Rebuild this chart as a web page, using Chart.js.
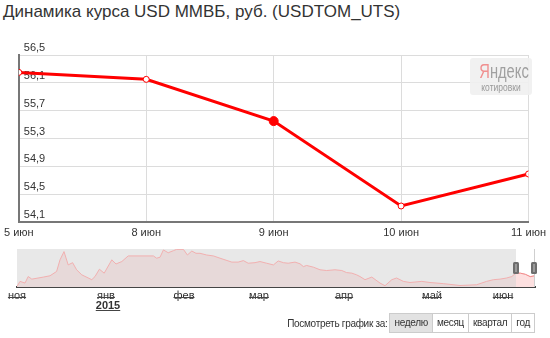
<!DOCTYPE html>
<html lang="ru">
  <head>
    <meta charset="UTF-8" />
    <title>Динамика курса USD ММВБ</title>
    <script src="https://cdn.jsdelivr.net/npm/chart.js"></script>
    <style>
      * {
        margin: 0;
        padding: 0;
        box-sizing: border-box;
        font-family: "Liberation Sans", Arial, sans-serif;
      }

      body {
        background: white;
        width: 550px;
        height: 338px;
        position: relative;
        overflow: hidden;
      }

      .title {
        position: absolute;
        left: 3px;
        top: 2px;
        font-size: 17px;
        color: #333;
        white-space: nowrap;
      }

      #mainBox {
        position: absolute;
        left: 0;
        top: 0;
        width: 550px;
        height: 242px;
      }

      #navBox {
        position: absolute;
        left: 0;
        top: 240px;
        width: 550px;
        height: 75px;
      }

      .logo {
        position: absolute;
        left: 470px;
        top: 58px;
        width: 62px;
        height: 37px;
        background: rgba(240, 240, 240, 0.9);
        border-radius: 3px;
        text-align: center;
      }

      .logo .brand {
        font-size: 21px;
        color: #a0a0a0;
        line-height: 22px;
        padding-top: 2px;
        transform: scaleX(0.7);
        white-space: nowrap;
      }

      .logo .brand span {
        color: #f09090;
      }

      .logo .sub {
        font-size: 10px;
        color: #999;
        line-height: 11px;
        transform: scaleX(0.85);
      }

      .periods {
        position: absolute;
        top: 313px;
        right: 15px;
        display: flex;
        align-items: center;
        font-size: 10px;
        letter-spacing: -0.3px;
        color: #333;
      }

      .periods .label {
        margin-right: 2px;
      }

      .periods .btns {
        display: flex;
        border: 1px solid #ccc;
      }

      .periods .btns div {
        height: 18px;
        line-height: 17px;
        padding: 0 4px;
        border-left: 1px solid #ccc;
      }

      .periods .btns div:first-child {
        border-left: none;
        background: #e2e2e2;
      }
    </style>
  </head>
  <body>
    <div class="title">Динамика курса USD ММВБ, руб. (USDTOM_UTS)</div>

    <div id="mainBox"><canvas id="rateChart"></canvas></div>
    <div class="logo">
      <div class="brand"><span>Я</span>ндекс</div>
      <div class="sub">котировки</div>
    </div>

    <div id="navBox"><canvas id="navChart"></canvas></div>

    <div class="periods">
      <div class="label">Посмотреть график за:</div>
      <div class="btns">
        <div>неделю</div>
        <div>месяц</div>
        <div>квартал</div>
        <div>год</div>
      </div>
    </div>

    <script>
      // week view
      const days = ["5 июн", "8 июн", "9 июн", "10 июн", "11 июн"];
      const rates = [56.25, 56.15, 55.55, 54.33, 54.79];
      const activeIndex = 2;

      const yTicks = [54.1, 54.5, 54.9, 55.3, 55.7, 56.1, 56.5];

      // navigator (trading day index -> rate)
      const navDays = [
        0, 0.75, 2, 2.8, 3.7, 6.6, 8.25, 9.9, 10.75, 11.75, 12.8, 13.9, 14.9,
        16.2, 18.7, 19.5, 20.6, 21.8, 23.7, 24.75, 26.2, 27.8, 34.1, 34.9,
        35.75, 36.6, 37.8, 39.1, 39.9, 41.6, 42.6, 43.7, 44.75, 45.75, 47.4,
        49.1, 50.75, 52, 53.7, 55.3, 56.6, 57.8, 59.5, 60.75, 62.4, 64.1,
        65.3, 66.6, 67.8, 69.5, 70.75, 71.6, 72.4, 74.1, 75.75, 77.4, 79.5,
        81.2, 82.4, 83.7, 84.9, 85.75, 87, 88.7, 90.75, 92, 93.7, 94.9, 96.6,
        98.25, 101.2, 103.25, 106.6, 110.75, 114.9, 117.4, 119.1, 120.75,
        122.4, 123.7, 124.75, 125.9, 127.1, 128.3, 129.5,
      ];
      const navRates = [
        49.1, 51.8, 50.9, 54.4, 53.0, 54.1, 54.8, 57.1, 63.3, 67.7, 60.6, 61.8,
        58.0, 55.3, 52.7, 54.4, 58.3, 56.2, 63.3, 61.1, 62.4, 65.4, 65.4, 64.2,
        64.7, 68.6, 67.1, 68.2, 68.9, 68.9, 65.9, 68.0, 66.8, 66.8, 65.9, 65.4,
        64.2, 63.3, 62.1, 62.1, 62.9, 61.5, 61.8, 62.4, 61.5, 60.6, 62.7, 61.8,
        61.5, 62.1, 61.2, 59.7, 60.3, 59.4, 58.0, 57.6, 58.0, 57.6, 56.5, 56.2,
        55.3, 54.4, 52.7, 54.1, 50.9, 49.5, 52.7, 53.6, 51.8, 51.2, 51.8, 51.2,
        50.6, 49.6, 50.0, 51.8, 52.7, 53.0, 53.6, 54.4, 56.25, 56.15, 55.55,
        54.33, 54.79,
      ];
      const selectionStart = 124.75;

      const monthDays = [0, 22.25, 41.75, 60.5, 81.75, 103.75, 121.5];
      const monthLabels = ["ноя", "янв", "фев", "мар", "апр", "май", "июн"];
      const yearLabel = "2015";

      const fmt = (v) => v.toFixed(1).replace(".", ",");

      new Chart(document.getElementById("rateChart"), {
        type: "line",
        data: {
          labels: days,
          datasets: [
            {
              data: rates,
              borderColor: "#ff0000",
              borderWidth: 3,
              tension: 0,
              clip: 0,
              pointRadius: (c) => (c.dataIndex === activeIndex ? 4.5 : 3),
              pointBackgroundColor: (c) =>
                c.dataIndex === activeIndex ? "#ff0000" : "#ffffff",
              pointBorderColor: "#ff0000",
              pointBorderWidth: 1,
            },
          ],
        },
        options: {
          responsive: true,
          maintainAspectRatio: false,
          animation: false,
          layout: { padding: { left: 17, right: 15, top: 55, bottom: 0 } },
          plugins: { legend: { display: false }, tooltip: { enabled: false } },
          scales: {
            x: {
              offset: false,
              grid: { color: "#dcdcdc", drawTicks: false },
              border: { color: "#777", width: 2 },
              ticks: {
                color: "#333",
                font: { size: 11 },
                padding: 4,
                maxRotation: 0,
              },
              afterFit: (s) => {
                s.height = 20;
              },
            },
            y: {
              min: yTicks[0],
              max: yTicks[yTicks.length - 1],
              afterBuildTicks: (s) => {
                s.ticks = yTicks.map((v) => ({ value: v }));
              },
              grid: { color: "#dcdcdc", drawTicks: false },
              border: { color: "#777", width: 2 },
              ticks: {
                mirror: true,
                padding: 5,
                labelOffset: -7,
                color: "#333",
                font: { size: 11 },
                callback: (v) => fmt(v),
              },
              afterFit: (s) => {
                s.width = 0;
              },
            },
          },
        },
      });

      // navigator background, handles, underlined month names
      const navDecor = {
        id: "navDecor",
        beforeDatasetsDraw(chart) {
          const { ctx, chartArea: a, scales } = chart;
          const sx = scales.x.getPixelForValue(selectionStart);
          ctx.save();
          ctx.fillStyle = "#e8e8e8";
          ctx.fillRect(a.left, a.top, sx - a.left, a.bottom - a.top);
          ctx.restore();
        },
        afterDatasetsDraw(chart) {
          const { ctx, chartArea: a, scales } = chart;
          const sx = scales.x.getPixelForValue(selectionStart);
          const ex = a.right;
          ctx.save();
          ctx.strokeStyle = "#cfcfcf";
          ctx.lineWidth = 1;
          ctx.beginPath();
          ctx.moveTo(ex - 0.5, a.top);
          ctx.lineTo(ex - 0.5, a.bottom);
          ctx.stroke();
          [sx, ex - 1].forEach((x) => {
            ctx.fillStyle = "#6e6e6e";
            ctx.beginPath();
            ctx.roundRect(x - 3, a.top + 13, 6, 12, 1.5);
            ctx.fill();
            ctx.fillStyle = "#9a9a9a";
            ctx.fillRect(x - 1, a.top + 15, 2, 8);
          });
          ctx.restore();
        },
        afterDraw(chart) {
          const { ctx, scales } = chart;
          const xs = scales.x;
          ctx.save();
          ctx.font = "11px 'Liberation Sans', Arial, sans-serif";
          ctx.strokeStyle = "#444";
          ctx.lineWidth = 1;
          const y = xs.top + 10.5;
          monthDays.forEach((d, i) => {
            const x = xs.getPixelForValue(d);
            const w = ctx.measureText(monthLabels[i]).width;
            ctx.beginPath();
            ctx.moveTo(x - w / 2, y);
            ctx.lineTo(x + w / 2, y);
            ctx.stroke();
          });
          const jx = xs.getPixelForValue(monthDays[1]) + 2;
          ctx.font = "bold 11px 'Liberation Sans', Arial, sans-serif";
          ctx.fillStyle = "#333";
          ctx.textAlign = "center";
          ctx.textBaseline = "middle";
          ctx.fillText(yearLabel, jx, xs.top + 18.5);
          const yw = ctx.measureText(yearLabel).width;
          ctx.beginPath();
          ctx.moveTo(jx - yw / 2, xs.top + 23.5);
          ctx.lineTo(jx + yw / 2, xs.top + 23.5);
          ctx.stroke();
          ctx.restore();
        },
      };

      const navPoints = navDays.map((d, i) => ({ x: d, y: navRates[i] }));
      const selPoints = navPoints.filter((p) => p.x >= selectionStart);

      new Chart(document.getElementById("navChart"), {
        type: "line",
        data: {
          datasets: [
            {
              data: selPoints,
              borderColor: "#f28a8a",
              borderWidth: 1,
              backgroundColor: "#fde0e0",
              fill: "start",
              pointRadius: 0,
              tension: 0,
            },
            {
              data: navPoints,
              borderColor: "#f2b0b0",
              borderWidth: 1,
              backgroundColor: "rgba(228, 190, 190, 0.35)",
              fill: "start",
              pointRadius: 0,
              tension: 0,
            },
          ],
        },
        options: {
          responsive: true,
          maintainAspectRatio: false,
          animation: false,
          layout: { padding: { left: 17, right: 15, top: 9, bottom: 0 } },
          plugins: { legend: { display: false }, tooltip: { enabled: false } },
          scales: {
            x: {
              type: "linear",
              min: navDays[0],
              max: navDays[navDays.length - 1],
              afterBuildTicks: (s) => {
                s.ticks = monthDays.map((v) => ({ value: v }));
              },
              grid: { display: false, drawTicks: false },
              border: { color: "#444", width: 2 },
              ticks: {
                autoSkip: false,
                maxRotation: 0,
                padding: 2,
                color: "#333",
                font: { size: 11 },
                callback: (v) => monthLabels[monthDays.indexOf(v)],
              },
              afterFit: (s) => {
                s.height = 28;
              },
            },
            y: {
              display: false,
              min: 48.8,
              max: 69.1,
            },
          },
        },
        plugins: [navDecor],
      });
    </script>
  </body>
</html>
